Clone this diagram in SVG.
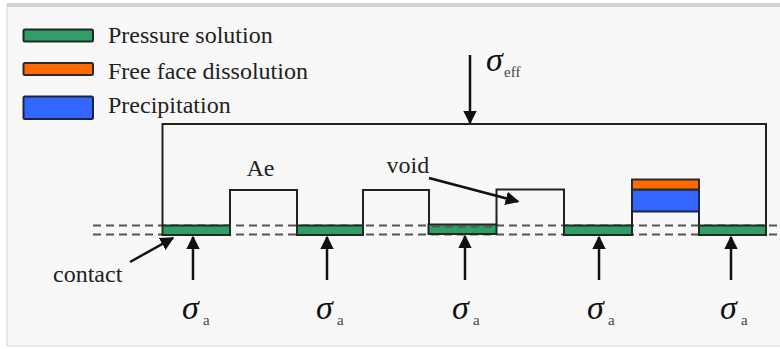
<svg xmlns="http://www.w3.org/2000/svg" width="780" height="349" viewBox="0 0 780 349">
<defs>
<style>
.t{font-family:"Liberation Serif","Times New Roman",serif;font-size:24px;fill:#222}
.sig{font-family:"Liberation Serif","Times New Roman",serif;font-style:italic;font-size:34px;fill:#111}
.sub{font-family:"Liberation Serif","Times New Roman",serif;font-size:15px;fill:#444}
.ln{fill:none;stroke:#222;stroke-width:2}
.dash{fill:none;stroke:#555;stroke-width:2.2;stroke-dasharray:8 5}
.ps{fill:#2f9e68;stroke:#1e2a22;stroke-width:2}
.ff{fill:#ff6a00;stroke:#2a2a2a;stroke-width:2}
.pr{fill:#3366ff;stroke:#1c2340;stroke-width:2}
.arr{fill:none;stroke:#111;stroke-width:2.5}
</style>
<marker id="ah" viewBox="0 0 10 10" refX="9" refY="5" markerWidth="5.5" markerHeight="5.5" orient="auto" markerUnits="strokeWidth">
<path d="M0,0 L10,5 L0,10 z" fill="#111"/>
</marker>
</defs>
<rect x="0" y="0" width="780" height="349" fill="#ffffff"/>
<rect x="7" y="5" width="780" height="341" fill="#f8f8f8" stroke="#d6d6d6" stroke-width="1"/>
<rect x="7" y="3" width="773" height="4" fill="#d2d2d2"/>

<g id="legend">
<rect class="ps" x="23.5" y="29.5" width="69.5" height="12" rx="1.5"/>
<text class="t" x="108" y="43">Pressure solution</text>
<rect class="ff" x="23.5" y="63" width="69.5" height="12" rx="1.5"/>
<text class="t" x="108" y="79">Free face dissolution</text>
<rect class="pr" x="23.5" y="96.5" width="69.5" height="22.5" rx="1.5"/>
<text class="t" x="108" y="113">Precipitation</text>
</g>

<g id="dashed-planes">
<line class="dash" x1="93" y1="225.5" x2="780" y2="225.5"/>
<line class="dash" x1="93" y1="234.5" x2="780" y2="234.5"/>
</g>

<g id="grain">
<path class="ln" d="M162.5,226 V124 H766 V226"/>
<path class="ln" d="M230,226 V190 H297 V226"/>
<path class="ln" d="M363,226 V190 H429 V226"/>
<path class="ln" d="M496.5,226 V189.5 H564 V226"/>
<path class="ln" d="M632,226 V211 M699,226 V211"/>
</g>

<g id="contacts">
<rect class="ps" x="162.5" y="225.5" width="67.5" height="9.5"/>
<rect class="ps" x="297" y="225.5" width="66" height="9.5"/>
<rect class="ps" x="428.5" y="224.5" width="68" height="9.5"/>
<line class="dash" x1="432" y1="226.5" x2="496" y2="226.5" stroke-width="1.5"/>
<rect class="ps" x="564" y="225.5" width="68" height="9.5"/>
<rect class="ps" x="699" y="225.5" width="67" height="9.5"/>
</g>

<g id="precipitation">
<rect class="pr" x="632" y="189.5" width="67" height="22"/>
<rect class="ff" x="632" y="179.5" width="67" height="10"/>
</g>

<g id="connectors">
<line class="arr" x1="470" y1="55" x2="470" y2="123" marker-end="url(#ah)"/>
<line class="arr" x1="193" y1="280" x2="193" y2="237" marker-end="url(#ah)"/>
<line class="arr" x1="327" y1="280" x2="327" y2="237" marker-end="url(#ah)"/>
<line class="arr" x1="465" y1="280" x2="465" y2="236" marker-end="url(#ah)"/>
<line class="arr" x1="599" y1="280" x2="599" y2="237" marker-end="url(#ah)"/>
<line class="arr" x1="731" y1="280" x2="731" y2="237" marker-end="url(#ah)"/>
<line class="arr" x1="130" y1="262" x2="173" y2="238" marker-end="url(#ah)"/>
<line class="arr" x1="429" y1="178" x2="518" y2="201.5" marker-end="url(#ah)"/>
</g>

<g id="labels">
<text class="t" x="246.5" y="176">Ae</text>
<text class="t" x="386.5" y="172.5">void</text>
<text class="t" x="53" y="282">contact</text>
<text class="sig" x="486" y="71" font-size="29">σ</text>
<text class="sub" x="504" y="77">eff</text>
<text class="sig" x="182" y="319">σ</text><text class="sub" x="203" y="325">a</text>
<text class="sig" x="316" y="319">σ</text><text class="sub" x="337" y="325">a</text>
<text class="sig" x="452" y="319">σ</text><text class="sub" x="473" y="325">a</text>
<text class="sig" x="587" y="319">σ</text><text class="sub" x="608" y="325">a</text>
<text class="sig" x="720" y="319">σ</text><text class="sub" x="741" y="325">a</text>
</g>
</svg>
